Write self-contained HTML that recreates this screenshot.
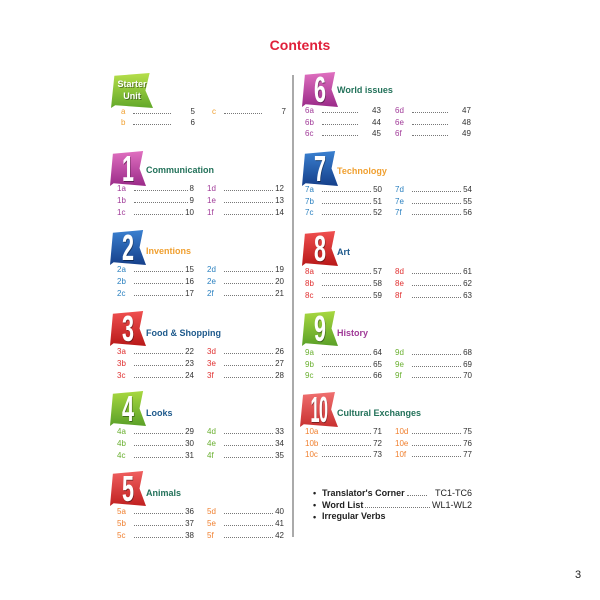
<!DOCTYPE html>
<html><head><meta charset="utf-8"><style>
*{margin:0;padding:0;box-sizing:border-box}
body{width:600px;height:600px;background:#fff;position:relative;overflow:hidden;font-family:"Liberation Sans",sans-serif}
.a{position:absolute}
.t{position:absolute;font-size:9px;font-weight:bold;line-height:11px;white-space:nowrap}
.r{position:absolute;display:flex;align-items:baseline;font-size:8px;line-height:10px;height:10px;color:#333}
.r b{font-weight:normal;width:17px}
.r i{flex:1;border-bottom:1px dotted #777;height:7px;margin-right:2px}
.bd{position:absolute;width:36px;height:35px;clip-path:polygon(8% 8%,92% 0,82% 50%,100% 100%,10% 92%,0 100%);color:#fff;font-weight:bold;font-size:36px;line-height:35px;text-align:center;text-shadow:1px 1px 0 rgba(0,0,0,.4)}
.bd span{display:inline-block;transform:scaleX(.6)}
.bl{position:absolute;left:313px;font-size:9px;font-weight:bold;color:#222;line-height:11px}
</style></head><body>
<div class="a" style="left:0;width:600px;top:37px;text-align:center;font-size:14px;font-weight:bold;color:#e0203a">Contents</div>
<div class="a" style="left:292px;top:75px;width:2px;height:462px;background:#aaa"></div>

<!-- Starter -->
<div class="bd" style="left:111px;top:73px;width:42px;background:linear-gradient(#b6df4a,#62a82a);font-size:9px;line-height:12px;padding-top:5px">Starter<br>Unit</div>
<div class="r" style="left:121px;top:107px;width:74px;color:#333"><b style="color:#f0a030;width:12px">a</b><i style="flex:0 0 38px"></i><span style="margin-left:18px">5</span></div>
<div class="r" style="left:121px;top:118px;width:74px"><b style="color:#f0a030;width:12px">b</b><i style="flex:0 0 38px"></i><span style="margin-left:18px">6</span></div>
<div class="r" style="left:212px;top:107px;width:74px"><b style="color:#f0a030;width:12px">c</b><i style="flex:0 0 38px"></i><span style="margin-left:18px">7</span></div>

<!-- 1 -->
<div class="bd" style="left:110px;top:151px;background:linear-gradient(#e070c0,#9a2a88)"><span>1</span></div>
<div class="t" style="left:146px;top:165px;color:#23725a">Communication</div>
<div class="r" style="left:117px;top:184px;width:77px;color:#333"><b style="color:#a03a98">1a</b><i></i><span>8</span></div>
<div class="r" style="left:117px;top:196px;width:77px"><b style="color:#a03a98">1b</b><i></i><span>9</span></div>
<div class="r" style="left:117px;top:208px;width:77px"><b style="color:#a03a98">1c</b><i></i><span>10</span></div>
<div class="r" style="left:207px;top:184px;width:77px"><b style="color:#a03a98">1d</b><i></i><span>12</span></div>
<div class="r" style="left:207px;top:196px;width:77px"><b style="color:#a03a98">1e</b><i></i><span>13</span></div>
<div class="r" style="left:207px;top:208px;width:77px"><b style="color:#a03a98">1f</b><i></i><span>14</span></div>

<!-- 2 -->
<div class="bd" style="left:110px;top:230px;background:linear-gradient(#3a80d0,#153f8a)"><span>2</span></div>
<div class="t" style="left:146px;top:246px;color:#f0a030">Inventions</div>
<div class="r" style="left:117px;top:265px;width:77px"><b style="color:#2a80c0">2a</b><i></i><span>15</span></div>
<div class="r" style="left:117px;top:277px;width:77px"><b style="color:#2a80c0">2b</b><i></i><span>16</span></div>
<div class="r" style="left:117px;top:289px;width:77px"><b style="color:#2a80c0">2c</b><i></i><span>17</span></div>
<div class="r" style="left:207px;top:265px;width:77px"><b style="color:#2a80c0">2d</b><i></i><span>19</span></div>
<div class="r" style="left:207px;top:277px;width:77px"><b style="color:#2a80c0">2e</b><i></i><span>20</span></div>
<div class="r" style="left:207px;top:289px;width:77px"><b style="color:#2a80c0">2f</b><i></i><span>21</span></div>

<!-- 3 -->
<div class="bd" style="left:110px;top:311px;background:linear-gradient(#f05050,#b81818)"><span>3</span></div>
<div class="t" style="left:146px;top:328px;color:#1e5a8c">Food &amp; Shopping</div>
<div class="r" style="left:117px;top:347px;width:77px"><b style="color:#e03030">3a</b><i></i><span>22</span></div>
<div class="r" style="left:117px;top:359px;width:77px"><b style="color:#e03030">3b</b><i></i><span>23</span></div>
<div class="r" style="left:117px;top:371px;width:77px"><b style="color:#e03030">3c</b><i></i><span>24</span></div>
<div class="r" style="left:207px;top:347px;width:77px"><b style="color:#e03030">3d</b><i></i><span>26</span></div>
<div class="r" style="left:207px;top:359px;width:77px"><b style="color:#e03030">3e</b><i></i><span>27</span></div>
<div class="r" style="left:207px;top:371px;width:77px"><b style="color:#e03030">3f</b><i></i><span>28</span></div>

<!-- 4 -->
<div class="bd" style="left:110px;top:391px;background:linear-gradient(#a8d840,#5aa028)"><span>4</span></div>
<div class="t" style="left:146px;top:408px;color:#1e5a8c">Looks</div>
<div class="r" style="left:117px;top:427px;width:77px"><b style="color:#6ab030">4a</b><i></i><span>29</span></div>
<div class="r" style="left:117px;top:439px;width:77px"><b style="color:#6ab030">4b</b><i></i><span>30</span></div>
<div class="r" style="left:117px;top:451px;width:77px"><b style="color:#6ab030">4c</b><i></i><span>31</span></div>
<div class="r" style="left:207px;top:427px;width:77px"><b style="color:#6ab030">4d</b><i></i><span>33</span></div>
<div class="r" style="left:207px;top:439px;width:77px"><b style="color:#6ab030">4e</b><i></i><span>34</span></div>
<div class="r" style="left:207px;top:451px;width:77px"><b style="color:#6ab030">4f</b><i></i><span>35</span></div>

<!-- 5 -->
<div class="bd" style="left:110px;top:471px;background:linear-gradient(#f06060,#c02020)"><span>5</span></div>
<div class="t" style="left:146px;top:488px;color:#23725a">Animals</div>
<div class="r" style="left:117px;top:507px;width:77px"><b style="color:#f08030">5a</b><i></i><span>36</span></div>
<div class="r" style="left:117px;top:519px;width:77px"><b style="color:#f08030">5b</b><i></i><span>37</span></div>
<div class="r" style="left:117px;top:531px;width:77px"><b style="color:#f08030">5c</b><i></i><span>38</span></div>
<div class="r" style="left:207px;top:507px;width:77px"><b style="color:#f08030">5d</b><i></i><span>40</span></div>
<div class="r" style="left:207px;top:519px;width:77px"><b style="color:#f08030">5e</b><i></i><span>41</span></div>
<div class="r" style="left:207px;top:531px;width:77px"><b style="color:#f08030">5f</b><i></i><span>42</span></div>

<!-- 6 -->
<div class="bd" style="left:302px;top:72px;background:linear-gradient(#e070c0,#9a2a88)"><span>6</span></div>
<div class="t" style="left:337px;top:85px;color:#23725a">World issues</div>
<div class="r" style="left:305px;top:106px;width:77px"><b style="color:#a03a98">6a</b><i style="flex:0 0 36px"></i><span style="margin-left:12px">43</span></div>
<div class="r" style="left:305px;top:118px;width:77px"><b style="color:#a03a98">6b</b><i style="flex:0 0 36px"></i><span style="margin-left:12px">44</span></div>
<div class="r" style="left:305px;top:129px;width:77px"><b style="color:#a03a98">6c</b><i style="flex:0 0 36px"></i><span style="margin-left:12px">45</span></div>
<div class="r" style="left:395px;top:106px;width:77px"><b style="color:#a03a98">6d</b><i style="flex:0 0 36px"></i><span style="margin-left:12px">47</span></div>
<div class="r" style="left:395px;top:118px;width:77px"><b style="color:#a03a98">6e</b><i style="flex:0 0 36px"></i><span style="margin-left:12px">48</span></div>
<div class="r" style="left:395px;top:129px;width:77px"><b style="color:#a03a98">6f</b><i style="flex:0 0 36px"></i><span style="margin-left:12px">49</span></div>

<!-- 7 -->
<div class="bd" style="left:302px;top:151px;background:linear-gradient(#3a80d0,#153f8a)"><span>7</span></div>
<div class="t" style="left:337px;top:166px;color:#f0a030">Technology</div>
<div class="r" style="left:305px;top:185px;width:77px"><b style="color:#2a80c0">7a</b><i></i><span>50</span></div>
<div class="r" style="left:305px;top:197px;width:77px"><b style="color:#2a80c0">7b</b><i></i><span>51</span></div>
<div class="r" style="left:305px;top:208px;width:77px"><b style="color:#2a80c0">7c</b><i></i><span>52</span></div>
<div class="r" style="left:395px;top:185px;width:77px"><b style="color:#2a80c0">7d</b><i></i><span>54</span></div>
<div class="r" style="left:395px;top:197px;width:77px"><b style="color:#2a80c0">7e</b><i></i><span>55</span></div>
<div class="r" style="left:395px;top:208px;width:77px"><b style="color:#2a80c0">7f</b><i></i><span>56</span></div>

<!-- 8 -->
<div class="bd" style="left:302px;top:231px;background:linear-gradient(#f05050,#b81818)"><span>8</span></div>
<div class="t" style="left:337px;top:247px;color:#1e5a8c">Art</div>
<div class="r" style="left:305px;top:267px;width:77px"><b style="color:#e03030">8a</b><i></i><span>57</span></div>
<div class="r" style="left:305px;top:279px;width:77px"><b style="color:#e03030">8b</b><i></i><span>58</span></div>
<div class="r" style="left:305px;top:291px;width:77px"><b style="color:#e03030">8c</b><i></i><span>59</span></div>
<div class="r" style="left:395px;top:267px;width:77px"><b style="color:#e03030">8d</b><i></i><span>61</span></div>
<div class="r" style="left:395px;top:279px;width:77px"><b style="color:#e03030">8e</b><i></i><span>62</span></div>
<div class="r" style="left:395px;top:291px;width:77px"><b style="color:#e03030">8f</b><i></i><span>63</span></div>

<!-- 9 -->
<div class="bd" style="left:302px;top:311px;background:linear-gradient(#a8d840,#5aa028)"><span>9</span></div>
<div class="t" style="left:337px;top:328px;color:#a03a98">History</div>
<div class="r" style="left:305px;top:348px;width:77px"><b style="color:#6ab030">9a</b><i></i><span>64</span></div>
<div class="r" style="left:305px;top:360px;width:77px"><b style="color:#6ab030">9b</b><i></i><span>65</span></div>
<div class="r" style="left:305px;top:371px;width:77px"><b style="color:#6ab030">9c</b><i></i><span>66</span></div>
<div class="r" style="left:395px;top:348px;width:77px"><b style="color:#6ab030">9d</b><i></i><span>68</span></div>
<div class="r" style="left:395px;top:360px;width:77px"><b style="color:#6ab030">9e</b><i></i><span>69</span></div>
<div class="r" style="left:395px;top:371px;width:77px"><b style="color:#6ab030">9f</b><i></i><span>70</span></div>

<!-- 10 -->
<div class="bd" style="left:300px;top:392px;width:38px;background:linear-gradient(#f07070,#c83030)"><span style="transform:scaleX(.45);letter-spacing:-1px">10</span></div>
<div class="t" style="left:337px;top:408px;color:#23725a">Cultural Exchanges</div>
<div class="r" style="left:305px;top:427px;width:77px"><b style="color:#f08030">10a</b><i></i><span>71</span></div>
<div class="r" style="left:305px;top:439px;width:77px"><b style="color:#f08030">10b</b><i></i><span>72</span></div>
<div class="r" style="left:305px;top:450px;width:77px"><b style="color:#f08030">10c</b><i></i><span>73</span></div>
<div class="r" style="left:395px;top:427px;width:77px"><b style="color:#f08030">10d</b><i></i><span>75</span></div>
<div class="r" style="left:395px;top:439px;width:77px"><b style="color:#f08030">10e</b><i></i><span>76</span></div>
<div class="r" style="left:395px;top:450px;width:77px"><b style="color:#f08030">10f</b><i></i><span>77</span></div>

<!-- bullets -->
<div class="bl" style="top:488px">•</div>
<div class="bl" style="top:500px">•</div>
<div class="bl" style="top:512px">•</div>
<div class="r" style="left:322px;top:488px;width:150px;font-size:9px;color:#222"><span style="font-weight:bold">Translator's Corner</span><i style="margin-left:2px;margin-right:8px"></i><span>TC1-TC6</span></div>
<div class="r" style="left:322px;top:500px;width:150px;font-size:9px;color:#222"><span style="font-weight:bold">Word List</span><i style="margin-left:2px"></i><span>WL1-WL2</span></div>
<div class="t" style="left:322px;top:511px;color:#222">Irregular Verbs</div>

<div class="a" style="left:575px;top:569px;font-size:11px;color:#222">3</div>
</body></html>
